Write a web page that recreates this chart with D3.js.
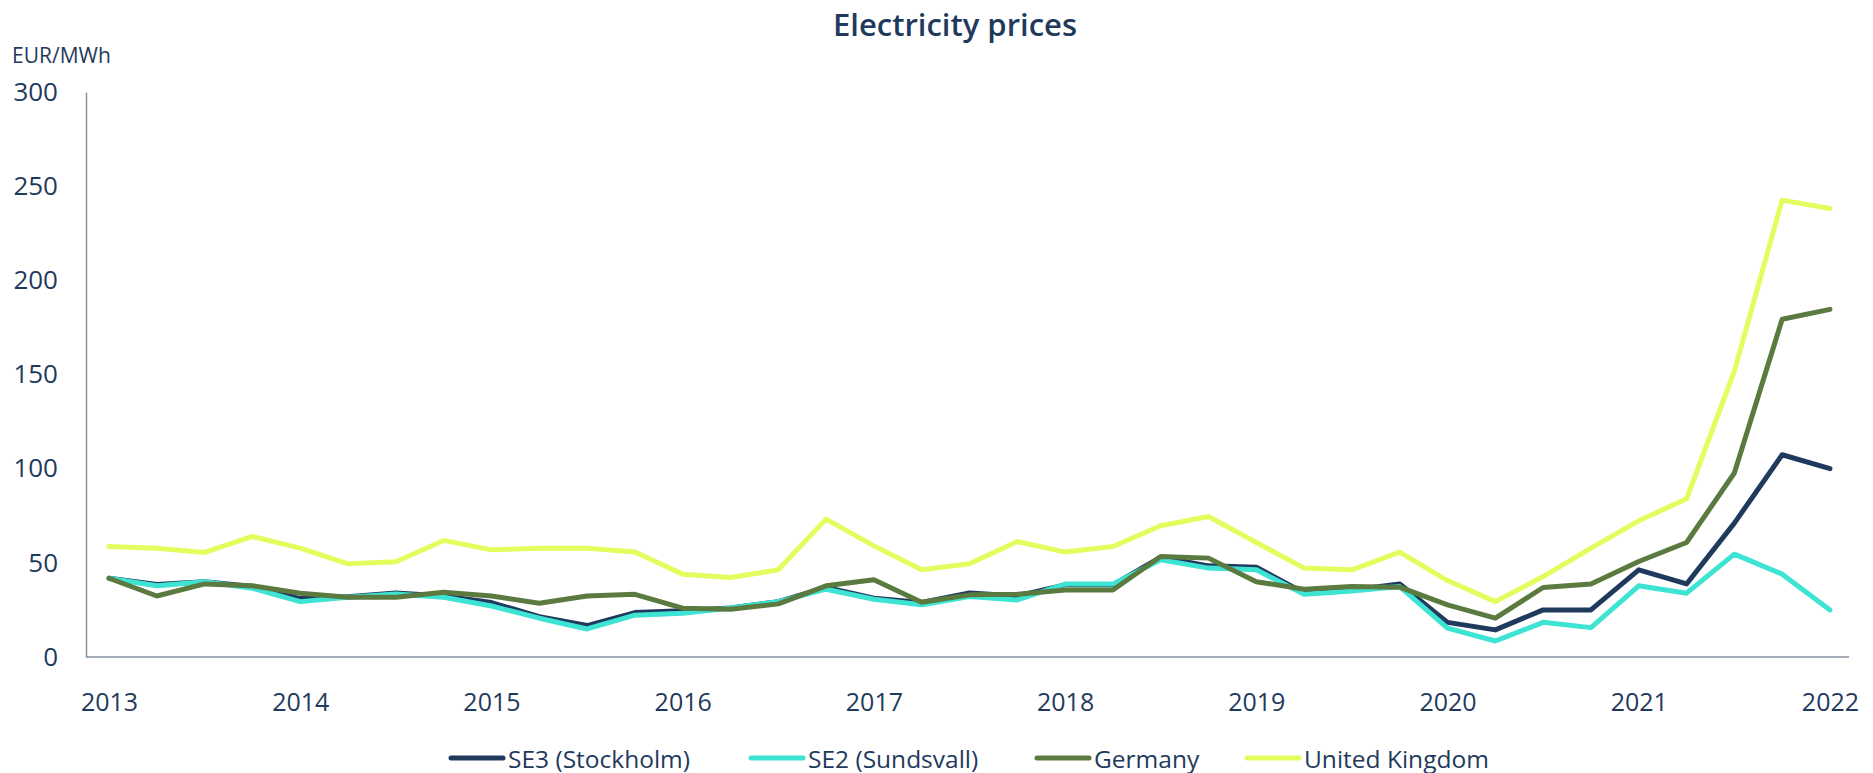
<!DOCTYPE html>
<html><head><meta charset="utf-8">
<script src="https://cdn.jsdelivr.net/npm/d3@7"></script>
<style>
html,body{margin:0;padding:0;background:#fff;}
svg{display:block;font-family:"Open Sans",sans-serif;}
</style></head>
<body><svg id="c" width="1873" height="773"></svg>
<script>
const quarters = ["2013Q1","2013Q2","2013Q3","2013Q4","2014Q1","2014Q2","2014Q3","2014Q4",
"2015Q1","2015Q2","2015Q3","2015Q4","2016Q1","2016Q2","2016Q3","2016Q4",
"2017Q1","2017Q2","2017Q3","2017Q4","2018Q1","2018Q2","2018Q3","2018Q4",
"2019Q1","2019Q2","2019Q3","2019Q4","2020Q1","2020Q2","2020Q3","2020Q4",
"2021Q1","2021Q2","2021Q3","2021Q4","2022Q1"];
const yearTicks = ["2013Q1","2014Q1","2015Q1","2016Q1","2017Q1","2018Q1","2019Q1","2020Q1","2021Q1","2022Q1"];
const yearLabels = ["2013","2014","2015","2016","2017","2018","2019","2020","2021","2022"];
const yTicks = [0,50,100,150,200,250,300];

const se3 = [41.8,38.5,40,37.5,31,32,34,32.4,28.9,21.4,16.7,23.6,24.6,26,29.4,37,31.2,29,34,32.4,38.3,38.3,53,48.4,47.7,34,35.6,38.8,18.4,14.4,25,25,46.3,38.8,71.1,107.4,100];
const se2 = [41.8,37.8,40,36.5,29.4,31.7,33.5,31.7,27.1,20.6,14.9,22.2,23.2,26,29.4,36,30.7,27.7,32.1,30.3,38.7,38.7,51.6,47.2,46.3,33.3,35.1,37.4,15.3,8.5,18.4,15.6,37.8,33.9,54.6,44,25];
const germany = [41.8,32.4,38.8,37.8,33.9,31.7,31.7,34.4,32.4,28.5,32.4,33.3,25.9,25.4,28.2,37.8,41,29.1,33,33.3,35.6,35.6,53.4,52.5,40,36,37.4,37.1,27.7,20.6,36.9,38.8,50.7,60.8,97.7,179.3,184.6];
const uk = [58.7,57.8,55.5,64,57.8,49.5,50.6,61.9,56.9,57.8,57.8,55.7,44,42.2,46.3,73.2,59,46.3,49.5,61.3,55.7,58.7,69.7,74.6,60.8,47.2,46.3,55.7,40.6,29.4,42.7,57.8,72.3,84,151.8,242.6,238.1];

const seriesNames = ["SE3 (Stockholm)","SE2 (Sundsvall)","Germany","United Kingdom"];
const seriesColors = ["#1f3a5c","#3de3d3","#5b7a40","#e3fd5f"];
const seriesData = [se3, se2, germany, uk];

const textColor = "#1f3a5c";
const axisColor = "#8794a3";

const svg = d3.select("#c");
const x = d3.scalePoint().domain(quarters).range([88, 1851]).padding(0.44);
const y = d3.scaleLinear().domain([0, 300]).range([657, 92]);

// title
svg.append("text").attr("x", 955).attr("y", 24).attr("text-anchor", "middle")
  .attr("dominant-baseline", "central").attr("fill", textColor)
  .attr("font-size", 31).attr("font-weight", 600).text("Electricity prices");
svg.append("text").attr("x", 12).attr("y", 55).attr("dominant-baseline", "central")
  .attr("fill", textColor).attr("font-size", 21).text("EUR/MWh");

// y axis
const yAxis = d3.axisLeft(y).tickValues(yTicks).tickSize(0).tickPadding(28);
const gy = svg.append("g").attr("transform", "translate(86,0)").call(yAxis);
gy.select(".domain").attr("stroke", axisColor).attr("stroke-width", 1.5);
gy.selectAll("text").attr("fill", textColor).attr("font-size", 26).attr("font-family", "Open Sans");

// x axis
const xAxis = d3.axisBottom(x).tickValues(yearTicks).tickSize(0).tickPadding(36)
  .tickFormat(d => yearLabels[yearTicks.indexOf(d)]);
const gx = svg.append("g").attr("transform", "translate(0,657)").call(xAxis);
gx.select(".domain").attr("stroke", axisColor).attr("stroke-width", 1.5)
  .attr("d", "M86,0H1849");
gx.selectAll("text").attr("fill", textColor).attr("font-size", 25).attr("font-family", "Open Sans");

// lines
const line = d3.line().x((d, i) => x(quarters[i])).y(d => y(d));
seriesData.forEach((s, k) => {
  svg.append("path").datum(s).attr("d", line).attr("fill", "none")
    .attr("stroke", seriesColors[k]).attr("stroke-width", 5)
    .attr("stroke-linejoin", "round").attr("stroke-linecap", "round");
});

// legend
const legendX = [451, 751, 1037, 1247];
const lg = svg.append("g").attr("transform", "translate(0,758)");
seriesNames.forEach((n, k) => {
  lg.append("line").attr("x1", legendX[k]).attr("x2", legendX[k] + 52)
    .attr("y1", 0).attr("y2", 0).attr("stroke", seriesColors[k])
    .attr("stroke-width", 5).attr("stroke-linecap", "round");
  lg.append("text").attr("x", legendX[k] + 57).attr("y", 0)
    .attr("dominant-baseline", "central").attr("fill", textColor)
    .attr("font-size", 24.5).text(n);
});
</script></body></html>
